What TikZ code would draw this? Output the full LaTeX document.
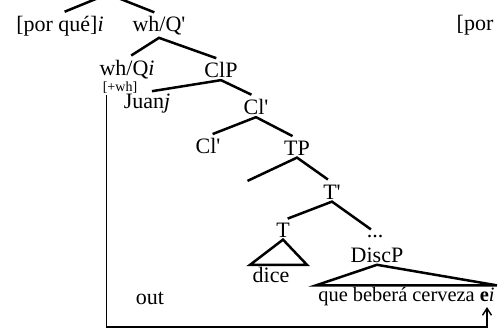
\documentclass[tikz,border=0pt]{standalone}
\usepackage{fontspec}
\setmainfont{Liberation Serif}
\usetikzlibrary{arrows.meta}
\newcommand{\idx}[1]{\textit{#1}}
\newcommand{\pr}{\textquotesingle}

\begin{document}
\begin{tikzpicture}[x=0.5pt,y=-0.5pt,
    lbl/.style={inner sep=1pt,font=\fontsize{11}{12}\selectfont},
    feat/.style={inner sep=0.5pt,font=\fontsize{7}{8}\selectfont},
    branch/.style={line width=1.25pt,shorten <=2.5pt,shorten >=2.5pt},
    roof/.style={line width=1.25pt},
    trace/.style={line width=0.7pt,-{Straight Barb[length=3.5pt,width=4.5pt]}}]
  \useasboundingbox (0,0) rectangle (498,329);
  \clip (0,0) rectangle (498,329);

  % labels of the tree
  \coordinate (root) at (108,-6);
  \node[lbl] (porque) at (60,26) {[por qué]\idx{i}};
  \node[lbl] (whQbar) at (159,26) {wh/Q\pr};
  \node[lbl] (whQ) at (127,70) {wh/Q\idx{i}};
  \node[lbl] (ClP) at (221,70) {ClP};
  \node[feat] (wh) at (120,88) {[+wh]};
  \node[lbl] (Juan) at (147,104) {Juan\idx{j}};
  \node[lbl] (Clbar) at (256,107) {Cl\pr};
  \node[lbl] (Cl) at (208,146) {Cl\pr};
  \node[lbl] (TP) at (297,148) {TP};
  \coordinate (TPleft) at (243,183);
  \node[lbl] (Tbar) at (332,192) {T\pr};
  \node[lbl] (T) at (283,230) {T};
  \node[lbl] (dots) at (375,236) {...};
  \node[lbl] (DiscP) at (377,255) {DiscP};
  \node[lbl] (dice) at (271,275) {dice};
  \node[lbl,anchor=west,font=\fontsize{10.2}{12}\selectfont] (que) at (316,297)
    {que beberá cerveza \textbf{e}\idx{i}};
  \node[lbl] (out) at (150,298) {out};
  \node[lbl] (por) at (475,25) {[por};

  % branches
  \draw[branch] (porque.north) -- (root) -- (whQbar.north);
  \draw[branch] (whQ.north) -- (whQbar.south) -- (ClP.north);
  \draw[branch] (Juan.north) -- (ClP.south) -- (Clbar.north);
  \draw[branch] (Cl.north) -- (Clbar.south) -- (TP.north);
  \draw[branch] (TPleft) -- (TP.south) -- (Tbar.north);
  \draw[branch] (T.north) -- (Tbar.south) -- (dots.north);
  \draw[roof] (T.south) -- (dice.north -| 250,0) -- (dice.north -| 307,0) -- cycle;
  \draw[roof] (DiscP.south) -- (que.north west) -- (que.north east) -- cycle;

  % movement path
  \coordinate (corner) at (487,327);
  \coordinate (landing) at (487,307);
  \draw[trace] ([xshift=2.5pt]wh.south west) |- (corner) -- (landing);
\end{tikzpicture}
\end{document}
